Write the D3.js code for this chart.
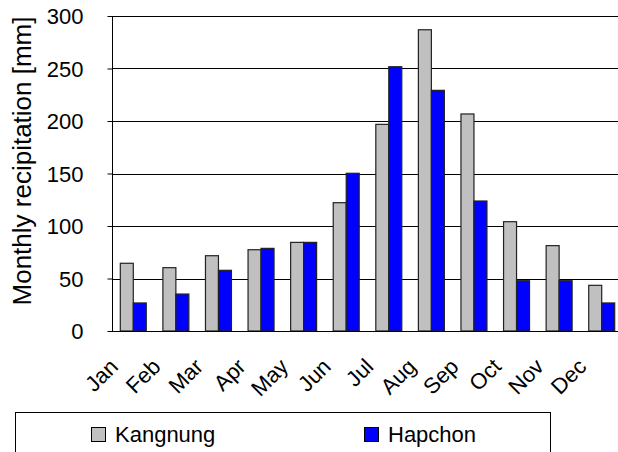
<!DOCTYPE html>
<html><head><meta charset="utf-8">
<script src="https://cdn.jsdelivr.net/npm/d3@7"></script>
<style>body{margin:0;background:#fff}svg{display:block;font-family:Arial,"Liberation Sans",sans-serif}</style>
</head><body>
<svg id="c" width="618" height="452"></svg>
<script>
const months = ["Jan","Feb","Mar","Apr","May","Jun","Jul","Aug","Sep","Oct","Nov","Dec"];
const seriesNames = ["Kangnung","Hapchon"];
const kangnung = [64.5,60.3,71.7,77.4,84.4,122.2,196.8,286.9,206.7,104.1,81.3,43.5];
const hapchon  = [26.7,35.2,57.8,78.7,84.4,150.2,251.7,229.2,123.8,47.9,47.9,26.7];
const yTicks = [0,50,100,150,200,250,300];
const colors = ["#C0C0C0","#0000FF"];

const svg = d3.select("#c");
const L=112, R=623, T=16, B=331;
const x0 = d3.scaleBand().domain(months).range([L,R]).paddingInner(0.39).paddingOuter(0.195);
const x1 = d3.scaleBand().domain(seriesNames).range([0,x0.bandwidth()]);
const y = d3.scaleLinear().domain([0,300]).range([B,T]);

// gridlines
svg.append("g").selectAll("line").data(yTicks.filter(d=>d>0)).join("line")
  .attr("x1",L).attr("x2",R).attr("y1",d=>Math.round(y(d))+0.5).attr("y2",d=>Math.round(y(d))+0.5)
  .attr("stroke","#000").attr("stroke-width",1);

// bars
const data = months.map((m,i)=>({m, vals:[kangnung[i],hapchon[i]]}));
const g = svg.append("g");
data.forEach(d=>{
  d.vals.forEach((v,j)=>{
    g.append("rect")
      .attr("x", x0(d.m)+x1(seriesNames[j]))
      .attr("y", y(v))
      .attr("width", x1.bandwidth())
      .attr("height", B - y(v))
      .attr("fill", colors[j]).attr("stroke","#222").attr("stroke-width",1.2);
  });
});

// axes
const yAxis = d3.axisLeft(y).tickValues(yTicks).tickSize(5).tickPadding(24);
const ya = svg.append("g").attr("transform",`translate(${L+0.5},0)`).call(yAxis);
ya.select(".domain").attr("stroke","#000").attr("d",`M0,${T}V${B+0.5}`);
ya.selectAll(".tick line").attr("x1",-5).attr("x2",0).attr("stroke","#000");
ya.selectAll(".tick text").attr("font-size",22).attr("font-family","Arial, 'Liberation Sans', sans-serif").attr("fill","#000").attr("dy","0.36em");

svg.append("line").attr("x1",L).attr("x2",R).attr("y1",B+0.5).attr("y2",B+0.5).attr("stroke","#000");

const xAxis = d3.axisBottom(x0).tickSize(0).tickPadding(0);
const xa = svg.append("g").attr("transform",`translate(0,${B})`).call(xAxis);
xa.select(".domain").remove();
xa.selectAll(".tick text")
  .attr("font-size",22).attr("font-family","Arial, 'Liberation Sans', sans-serif").attr("fill","#000")
  .attr("text-anchor","end").attr("x",-14).attr("y",37).attr("dy",0)
  .attr("transform","rotate(-45,-14,37)");

// y title
svg.append("text").attr("transform","translate(31,161) rotate(-90)")
  .attr("text-anchor","middle").attr("font-size",26).text("Monthly recipitation [mm]");

// legend
svg.append("rect").attr("x",15.5).attr("y",412.5).attr("width",535).attr("height",60)
  .attr("fill","#fff").attr("stroke","#000");
const legX = [91,364];
seriesNames.forEach((s,j)=>{
  svg.append("rect").attr("x",legX[j]+0.5).attr("y",427.5).attr("width",14).attr("height",14)
    .attr("fill",colors[j]).attr("stroke","#000");
  svg.append("text").attr("x",legX[j]+24).attr("y",442).attr("font-size",22).text(s);
});
</script>
</body></html>
